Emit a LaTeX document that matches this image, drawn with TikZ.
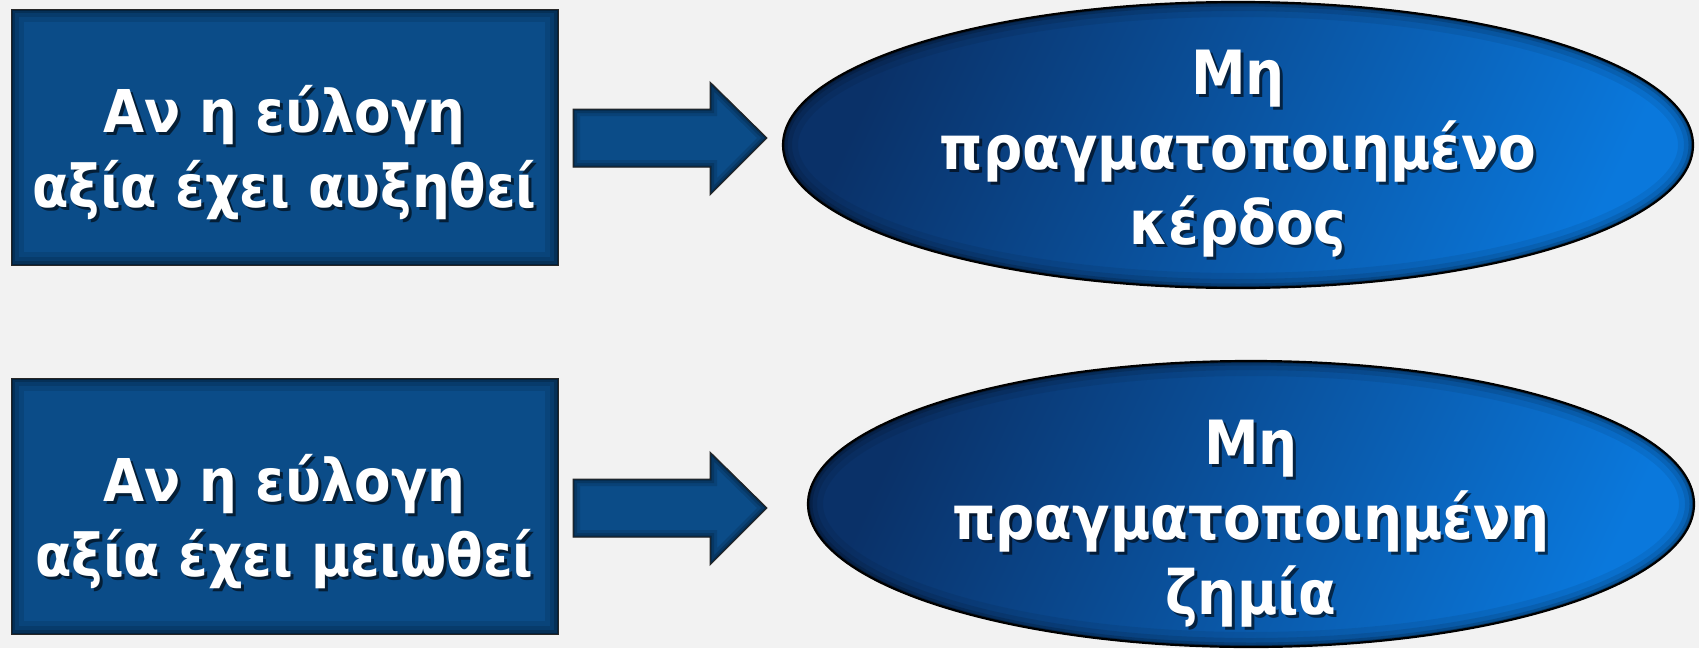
\documentclass[tikz,border=0pt]{standalone}
\usepackage{fontspec}
\setmainfont{DejaVu Sans Condensed}
\usetikzlibrary{shapes.geometric}
\definecolor{bg}{HTML}{F2F2F2}
\definecolor{boxblue}{HTML}{0B4C88}
\definecolor{ellDark}{HTML}{0A3168}
\definecolor{ellMid}{HTML}{0864C0}
\definecolor{ellLight}{HTML}{0A78DC}
\tikzset{
  txt/.style={text=white, font=\fontsize{59}{75}\selectfont\bfseries, align=center, inner sep=0pt},
  etxt/.style={txt, font=\fontsize{61}{75}\selectfont\bfseries},
  shadow/.style={text=black, opacity=0.6},
  bluebox/.style={draw=black!85, line width=1pt, fill=boxblue, inner sep=0pt,
    minimum width=547pt, minimum height=256pt,
    path picture={
      \foreach \w/\o in {26/0.10,16/0.12,8/0.18,3/0.3}
        \draw[black, opacity=\o, line width=\w pt] (path picture bounding box.south west) rectangle (path picture bounding box.north east);
    }},
  blueell/.style 2 args={ellipse, draw=black, line width=2.2pt, inner sep=0pt,
    minimum width=#1pt, minimum height=#2pt,
    shading=axis, left color=ellDark, middle color=ellMid, right color=ellLight, shading angle=65,
    path picture={
      \foreach \w/\o in {30/0.07,18/0.10,9/0.16,4/0.3}
        \draw[black, opacity=\o, line width=\w pt] (path picture bounding box.center) ellipse [x radius=#1pt/2, y radius=#2pt/2];
    }},
  blockarrow/.style={draw=black!85, line width=1pt}
}
\newcommand\blockarrowpath[2]{(#1) ++(0,-29) -- ++(137,0) -- ++(0,-27) -- (#2) -- ++(-57,57) -- ++(0,-28) -- ++(-137,0) -- cycle}
\newcommand\drawblockarrow[2]{%
  \fill[boxblue] \blockarrowpath{#1}{#2};
  \begin{scope}
    \clip \blockarrowpath{#1}{#2};
    \foreach \w/\o in {14/0.12,8/0.16,3/0.3}
      \draw[black, opacity=\o, line width=\w pt, line join=miter] \blockarrowpath{#1}{#2};
  \end{scope}
  \draw[blockarrow] \blockarrowpath{#1}{#2};
}
\begin{document}
\begin{tikzpicture}[x=1pt, y=-1pt]
\fill[bg] (0,0) rectangle (1699,648);
\useasboundingbox (0,0) rectangle (1699,648);

% left boxes
\node[bluebox] (b1) at (284.5,137) {};
\node[bluebox] (b2) at (284.5,506) {};
\node[txt, shadow] at ([shift={(3,3)}]b1.center) [yshift=-16pt] {Αν η εύλογη\\αξία έχει αυξηθεί};
\node[txt] (t1) at (b1.center) [yshift=-16pt] {Αν η εύλογη\\αξία έχει αυξηθεί};
\node[txt, shadow] at ([shift={(3,3)}]b2.center) [yshift=-16pt] {Αν η εύλογη\\αξία έχει μειωθεί};
\node[txt] (t2) at (b2.center) [yshift=-16pt] {Αν η εύλογη\\αξία έχει μειωθεί};

% ellipses
\node[blueell={910}{286}] (e1) at (1238,145) {};
\node[blueell={886}{286}] (e2) at (1251,504) {};
\node[etxt, shadow] at ([shift={(3,3)}]e1.center) [yshift=-9pt] {Μη\\πραγματοποιημένο\\κέρδος};
\node[etxt] (u1) at (e1.center) [yshift=-9pt] {Μη\\πραγματοποιημένο\\κέρδος};
\node[etxt, shadow] at ([shift={(3,3)}]e2.center) [yshift=-20pt] {Μη\\πραγματοποιημένη\\ζημία};
\node[etxt] (u2) at (e2.center) [yshift=-20pt] {Μη\\πραγματοποιημένη\\ζημία};

% block arrows
\coordinate (a1s) at (573,138);
\coordinate (a1t) at (767,138);
\coordinate (a2s) at (573,508);
\coordinate (a2t) at (767,508);
\drawblockarrow{a1s}{a1t}
\drawblockarrow{a2s}{a2t}
\end{tikzpicture}
\end{document}
